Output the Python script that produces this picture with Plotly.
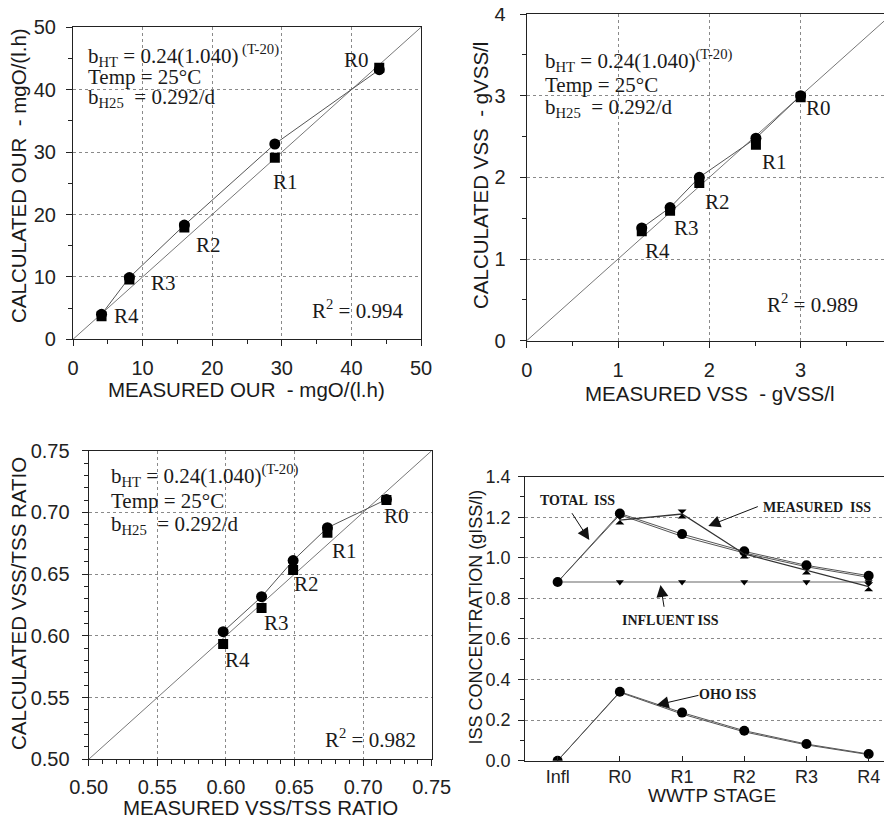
import plotly.graph_objects as go

# page has an 8px body margin: figure is sized to fill the 892x820 window exactly
OFF = 8
W, H = 892 - OFF, 820 - OFF

# ---------------- data ----------------
stages = ["R0", "R1", "R2", "R3", "R4"]

our_measured = [44.0, 29.0, 16.0, 8.1, 4.1]
our_calc_a = [43.2, 31.3, 18.3, 9.9, 4.0]     # circles
our_calc_b = [43.5, 29.1, 17.9, 9.6, 3.7]     # squares
our_diag = [0, 50]

vss_measured = [3.0, 2.51, 1.89, 1.57, 1.26]
vss_calc_a = [3.0, 2.48, 2.0, 1.63, 1.38]
vss_calc_b = [2.98, 2.40, 1.93, 1.59, 1.34]
vss_diag = [0, 4]

ratio_measured = [0.717, 0.674, 0.649, 0.626, 0.598]
ratio_calc_a = [0.7105, 0.6876, 0.661, 0.6317, 0.6034]
ratio_calc_b = [0.710, 0.6836, 0.6533, 0.6226, 0.5934]
ratio_diag = [0.5, 0.75]

iss_stages = ["Infl", "R0", "R1", "R2", "R3", "R4"]
iss_pos = [0, 1, 2, 3, 4, 5]
total_iss = [0.881, 1.219, 1.117, 1.032, 0.963, 0.912]
total_iss_b = [0.881, 1.212, 1.106, 1.024, 0.956, 0.904]
measured_iss = [None, 1.186, 1.216, 1.019, 0.940, 0.858]
influent_iss = [0.881, 0.881, 0.881, 0.881, 0.881, 0.881]
oho_iss = [0.0, 0.340, 0.237, 0.148, 0.082, 0.033]
oho_iss_b = [0.0, 0.337, 0.230, 0.142, 0.078, 0.030]


def PX(px):
    return (px - OFF) / W


def PY(py):
    return 1 - (py - OFF) / H


LINE = "#555555"
FRAME = "#222222"
SANS = "Liberation Sans, Arial, sans-serif"
SERIF = "Liberation Serif, Times New Roman, serif"

fig = go.Figure()


def scatter_panel(xa, ya, meas, ca, cb, diag):
    fig.add_trace(go.Scatter(x=diag, y=diag, mode="lines", line=dict(color="#777777", width=1),
                             xaxis=xa, yaxis=ya, showlegend=False, hoverinfo="skip"))
    fig.add_trace(go.Scatter(x=meas, y=ca, mode="lines+markers",
                             line=dict(color=LINE, width=1),
                             marker=dict(symbol="circle", size=11, color="black"),
                             xaxis=xa, yaxis=ya, showlegend=False))
    fig.add_trace(go.Scatter(x=meas, y=cb, mode="markers",
                             marker=dict(symbol="square", size=10, color="black"),
                             xaxis=xa, yaxis=ya, showlegend=False))


scatter_panel("x", "y", our_measured, our_calc_a, our_calc_b, our_diag)
scatter_panel("x2", "y2", vss_measured, vss_calc_a, vss_calc_b, vss_diag)
scatter_panel("x3", "y3", ratio_measured, ratio_calc_a, ratio_calc_b, ratio_diag)

# panel 4
fig.add_trace(go.Scatter(x=iss_pos, y=influent_iss, mode="lines+markers",
                         line=dict(color="#666666", width=1.2),
                         marker=dict(symbol="triangle-down", size=7, color="black"),
                         xaxis="x4", yaxis="y4", showlegend=False))
fig.add_trace(go.Scatter(x=iss_pos, y=total_iss_b, mode="lines",
                         line=dict(color=LINE, width=1),
                         xaxis="x4", yaxis="y4", showlegend=False))
fig.add_trace(go.Scatter(x=iss_pos, y=total_iss, mode="lines+markers",
                         line=dict(color=LINE, width=1),
                         marker=dict(symbol="circle", size=10, color="black"),
                         xaxis="x4", yaxis="y4", showlegend=False))
fig.add_trace(go.Scatter(x=iss_pos, y=measured_iss, mode="lines+markers",
                         line=dict(color="#333333", width=1.3),
                         marker=dict(symbol="hourglass", size=9, color="black"),
                         xaxis="x4", yaxis="y4", showlegend=False))
fig.add_trace(go.Scatter(x=iss_pos, y=oho_iss_b, mode="lines",
                         line=dict(color=LINE, width=1),
                         xaxis="x4", yaxis="y4", showlegend=False))
fig.add_trace(go.Scatter(x=iss_pos, y=oho_iss, mode="lines+markers",
                         line=dict(color=LINE, width=1),
                         marker=dict(symbol="circle", size=10, color="black"),
                         xaxis="x4", yaxis="y4", showlegend=False))


def ax(domain, rng, dtick, minor_dtick, font_size=20, grid=True, anchor=None, standoff=0,
       fmt=None):
    d = dict(domain=domain, range=rng, dtick=dtick, tick0=rng[0],
             showline=True, linecolor=FRAME, linewidth=1.2, mirror=True,
             ticks="outside", ticklen=6, tickcolor=FRAME,
             showgrid=grid, gridcolor="#8a8a8a", griddash="dot", gridwidth=1,
             zeroline=False, tickfont=dict(family=SANS, size=font_size, color="#222"),
             ticklabelstandoff=standoff, ticklabeloverflow="allow",
             fixedrange=True, automargin=False)
    if minor_dtick:
        d["minor"] = dict(dtick=minor_dtick, ticks="outside", ticklen=4, tickcolor=FRAME, showgrid=False)
    if anchor:
        d["anchor"] = anchor
    if fmt:
        d["tickformat"] = fmt
    return d


# domains from pixel positions in the 892x820 window
x1d = [PX(73), PX(421)]
y1d = [PY(339.3), PY(27.3)]
x2d = [PX(526.7), 1.0]
y2d = [PY(340.7), PY(14)]
x3d = [PX(88.7), PX(431.7)]
y3d = [PY(759.3), PY(450.7)]
x4d = [PX(525.3), 1.0]
y4d = [PY(760.7), PY(476.7)]

fig.update_layout(
    template="none",
    width=W, height=H,
    margin=dict(l=0, r=0, t=0, b=0, autoexpand=False),
    paper_bgcolor="white", plot_bgcolor="white",
    xaxis=ax(x1d, [0, 50], 10, 5, anchor="y", standoff=5),
    yaxis=ax(y1d, [0, 50], 10, 5, anchor="x", standoff=6),
    xaxis2=ax(x2d, [0, 4], 1, 0.5, anchor="y2", standoff=5),
    yaxis2=ax(y2d, [0, 4], 1, 0.5, anchor="x2", standoff=10),
    xaxis3=ax(x3d, [0.5, 0.75], 0.05, 0.01, anchor="y3", standoff=4, fmt=".2f"),
    yaxis3=ax(y3d, [0.5, 0.75], 0.05, 0.01, anchor="x3", standoff=8, fmt=".2f"),
    xaxis4=dict(domain=x4d, range=[-0.52, 5.375], tickmode="array", tickvals=iss_pos,
                ticktext=iss_stages, showline=True, linecolor=FRAME, linewidth=1.2,
                mirror=True, ticks="inside", ticklen=5, tickcolor=FRAME, showgrid=False,
                zeroline=False, tickfont=dict(family=SANS, size=18, color="#222"),
                ticklabeloverflow="allow",
                anchor="y4", fixedrange=True, automargin=False),
    yaxis4=ax(y4d, [0, 1.4], 0.2, 0.1, font_size=18, anchor="x4", standoff=4, fmt=".1f"),
)

ann = []


def text(px, py, s, size=20, family=SANS, angle=0, xanchor="center", bold=False):
    if bold:
        s = "<b>" + s + "</b>"
    ann.append(dict(x=PX(px), y=PY(py), xref="paper", yref="paper", text=s, showarrow=False,
                    font=dict(family=family, size=size, color="#1a1a1a"),
                    textangle=angle, xanchor=xanchor, yanchor="middle"))


def arrow(tx, ty, hx, hy):
    ann.append(dict(x=PX(hx), y=PY(hy), xref="paper", yref="paper", text="", showarrow=True,
                    ax=tx - hx, ay=ty - hy, arrowhead=2, arrowsize=2.4, arrowwidth=1,
                    arrowcolor="#111"))


# axis titles
text(246.7, 389, "MEASURED OUR  - mgO/(l.h)", size=20.5)
text(19, 176, "CALCULATED OUR  - mgO/(l.h)", size=20.5, angle=-90)
text(709.5, 393, "MEASURED VSS  - gVSS/l", size=20.5)
text(481, 176, "CALCULATED VSS  - gVSS/l", size=20.5, angle=-90)
text(260, 807, "MEASURED VSS/TSS RATIO", size=20.5)
text(18, 604, "CALCULATED VSS/TSS RATIO", size=20.5, angle=-90)
text(711.7, 795, "WWTP STAGE", size=19)
text(475, 617.5, "ISS CONCENTRATION (gISS/l)", size=18, angle=-90)

# equation blocks
EQ1_spaced = "b<sub>HT</sub> = 0.24(1.040)<sup> (T-20)</sup>"
EQ1 = "b<sub>HT</sub> = 0.24(1.040)<sup>(T-20)</sup>"
EQ2 = "Temp = 25°C"
EQ3 = "b<sub>H25</sub>  = 0.292/d"
for (lx, y1, y2, y3, e1) in [(86, 55, 76.7, 98.3, EQ1_spaced), (542.7, 60, 85, 108.3, EQ1),
                             (109.3, 475, 500.7, 525, EQ1)]:
    text(lx, y1, e1, size=21, family=SERIF, xanchor="left")
    text(lx, y2, EQ2, size=21, family=SERIF, xanchor="left")
    text(lx, y3, EQ3, size=21, family=SERIF, xanchor="left")

# point labels
labels1 = [(356, 60), (285, 181.7), (208.3, 245), (163.3, 282.7), (126.7, 316)]
labels2 = [(818.7, 108.3), (774.3, 161.7), (717.7, 201.7), (686, 228.3), (657.7, 250.7)]
labels3 = [(396.7, 516), (344, 551), (306.7, 584), (276, 623.3), (237.3, 660)]
for lab in (labels1, labels2, labels3):
    for name, (px, py) in zip(stages, lab):
        text(px, py, name, size=21, family=SERIF)

text(357.3, 310, "R<sup>2</sup> = 0.994", size=21, family=SERIF)
text(812.7, 303.3, "R<sup>2</sup> = 0.989", size=21, family=SERIF)
text(370, 738.3, "R<sup>2</sup> = 0.982", size=21, family=SERIF)

# panel 4 labels and arrows
text(577.7, 500.7, "TOTAL  ISS", size=14, family=SERIF, bold=True)
text(816.7, 507.3, "MEASURED  ISS", size=14, family=SERIF, bold=True)
text(670, 620.7, "INFLUENT ISS", size=14, family=SERIF, bold=True)
text(727.7, 694.3, "OHO ISS", size=14, family=SERIF, bold=True)
arrow(571, 511.7, 589.3, 540)
arrow(759.3, 506, 708.3, 526)
arrow(664.3, 608.3, 660.5, 585)
arrow(700, 695, 656.7, 705)

fig.update_layout(annotations=ann)
fig.write_html("out.html")
